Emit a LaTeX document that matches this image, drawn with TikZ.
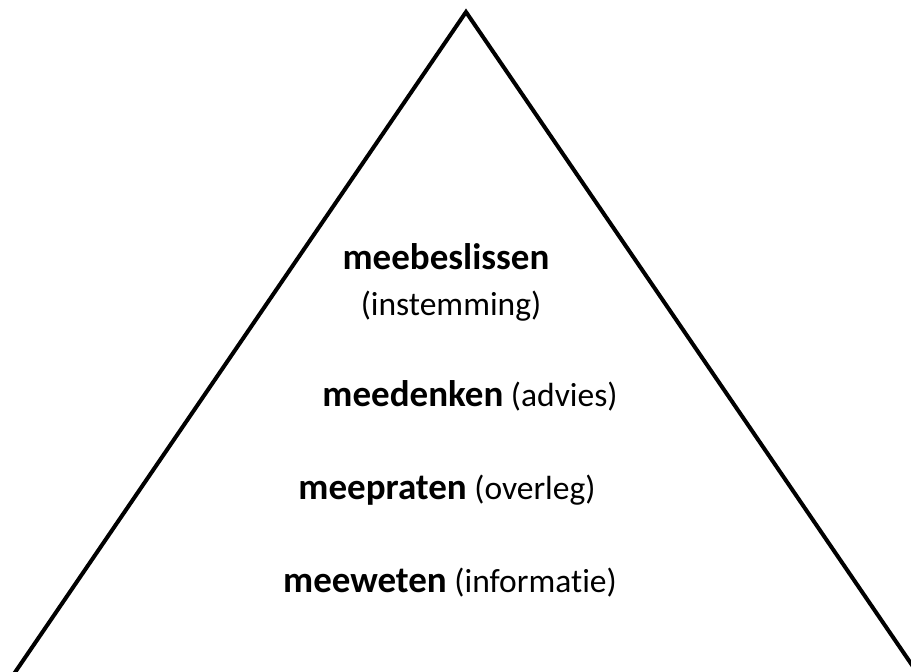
\documentclass[tikz,border=0pt]{standalone}
\usepackage{fontspec}
\setmainfont{Carlito}[Ligatures=NoCommon]
\usepackage{tikz}
\usetikzlibrary{positioning}

\newcommand{\lvl}[1]{{\fontsize{37}{44}\selectfont\bfseries #1}}

\begin{document}
\begin{tikzpicture}[x=1pt, y=-1pt,
  level/.style={font=\fontsize{33.5}{40}\selectfont, inner sep=0pt, anchor=base},
  side/.style={line width=4pt, line join=miter}]

\useasboundingbox (0,0) rectangle (911,672);
\clip (0,0) rectangle (911,672);

% Draw the pyramid
\coordinate (top) at (466,12);
\coordinate (left) at (5,687);
\coordinate (right) at (927,687);
\draw[side] (left) -- (top) -- (right);

% Draw the levels
\node[level] (beslis) at (446,269) {\lvl{meebeslissen}};
\node[level] (instem) at (451,315) {(instemming)};
\node[level] (denken) at (470,406) {\lvl{meedenken} (advies)};
\node[level] (praten) at (447,499) {\lvl{meepraten} (overleg)};
\node[level] (weten) at (450,592) {\lvl{meeweten} (informatie)};

\end{tikzpicture}
\end{document}
